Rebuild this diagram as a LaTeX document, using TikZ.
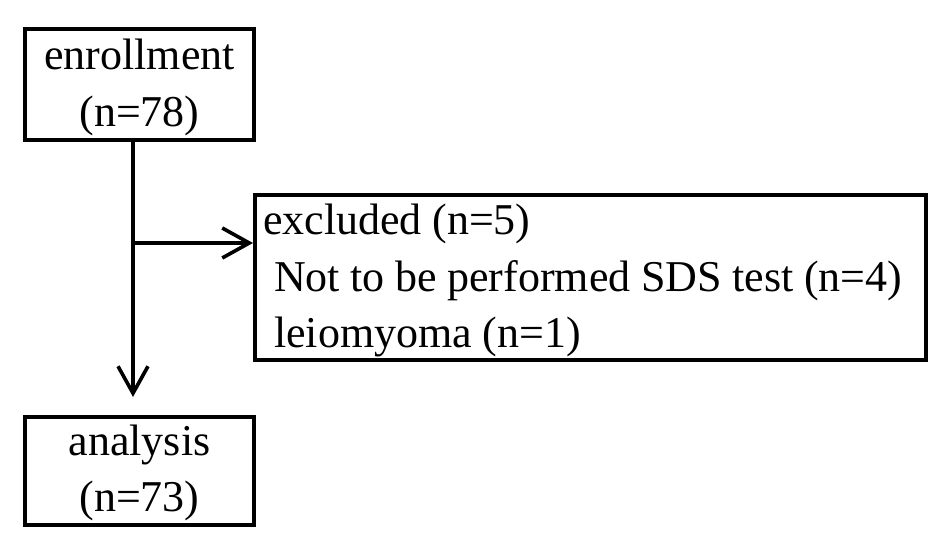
\documentclass[tikz,border=0pt]{standalone}
\usepackage{fontspec}
\setmainfont{Liberation Serif}
\usetikzlibrary{arrows.meta}
\begin{document}
\begin{tikzpicture}[x=1pt,y=-1pt,
  box/.style={draw=black, line width=4.5pt, inner sep=0pt, font=\fontsize{44pt}{56.5pt}\selectfont},
  conn/.style={draw=black, line width=3.6pt},
  vee/.style={-{Straight Barb[length=27pt,width=30pt]}}]
\useasboundingbox[fill=white] (0,0) rectangle (945,548);
\node[box, minimum width=228.6pt, minimum height=110.6pt, align=center] (enroll) at (139.5,84.5) {\rule{0pt}{36pt}enrollment\\(n=78)};
\node[box, minimum width=228.6pt, minimum height=107.6pt, align=center] (analysis) at (139.5,471) {\rule{0pt}{34pt}analysis\\(n=73)};
\node[box, minimum width=670.6pt, minimum height=164.6pt, text width=655pt, inner xsep=7.8pt, align=left] (excl) at (590.5,277.5) {\spaceskip=0.24em\relax\mbox{\rule{0pt}{36.5pt}excluded (n=5)}\\\mbox{\hspace*{11pt}Not to be performed SDS test (n=4)}\\\mbox{\hspace*{11pt}leiomyoma (n=1)}};
\coordinate (split) at (133,243);
\draw[conn, vee, shorten >=18pt] (split |- enroll.south) -- (split |- analysis.north);
\draw[conn, vee] (split) -- (split -| excl.west);
\end{tikzpicture}
\end{document}
